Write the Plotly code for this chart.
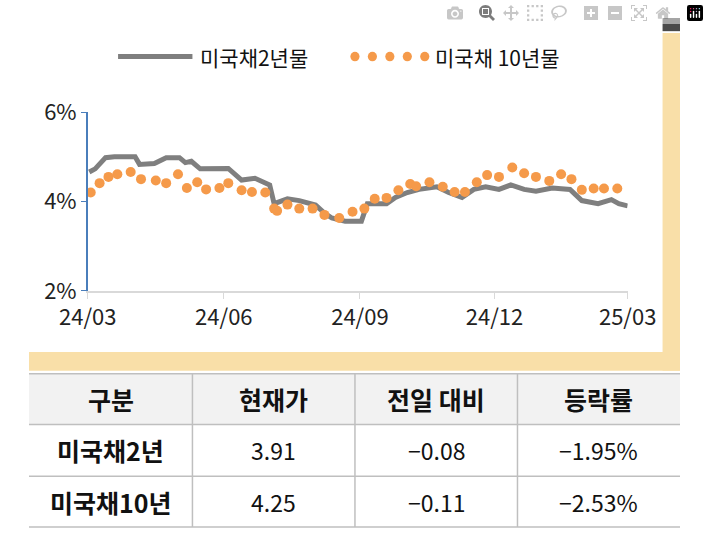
import pandas as pd
import plotly.graph_objects as go

start = pd.Timestamp("2024-03-01")

# 미국채 2년물 (days since 2024-03-01, yield %)
y2_days = [1, 5, 12, 18, 32, 35, 45, 53, 62, 66, 70, 76, 95, 104, 113, 123, 126, 135, 143, 154,
           160, 165, 174, 185, 189, 202, 208, 216, 224, 236, 244, 253, 261, 269, 278, 286, 295,
           303, 314, 326, 334, 345, 354, 359, 365]
y2_vals = [4.66, 4.73, 4.98, 5.0, 5.0, 4.83, 4.85, 4.98, 4.98, 4.87, 4.9, 4.73, 4.74, 4.48, 4.52,
           4.37, 3.95, 4.06, 4.02, 3.92, 3.74, 3.63, 3.56, 3.56, 3.95, 3.95, 4.09, 4.2, 4.27, 4.33,
           4.2, 4.09, 4.27, 4.33, 4.27, 4.37, 4.27, 4.23, 4.3, 4.27, 4.02, 3.95, 4.04, 3.95, 3.9]

# 미국채 10년물
y10_days = [2, 8, 14, 20, 29, 36, 46, 53, 61, 67, 74, 80, 89, 95, 104, 111, 120, 126, 128, 135,
            143, 152, 160, 170, 179, 187, 194, 202, 210, 218, 222, 231, 240, 248, 255, 263, 270,
            278, 287, 295, 303, 312, 320, 327, 334, 342, 349, 358]
y10_vals = [4.2, 4.41, 4.55, 4.61, 4.66, 4.5, 4.47, 4.41, 4.61, 4.3, 4.43, 4.27, 4.3, 4.41, 4.25,
            4.21, 4.2, 3.84, 3.79, 3.93, 3.84, 3.84, 3.7, 3.63, 3.77, 3.84, 4.06, 4.08, 4.25, 4.39,
            4.34, 4.43, 4.33, 4.21, 4.21, 4.43, 4.59, 4.55, 4.76, 4.63, 4.55, 4.46, 4.61, 4.5,
            4.26, 4.29, 4.29, 4.29]

tick_vals = ["2024-03-01", "2024-06-01", "2024-09-01", "2024-12-01", "2025-03-01"]
tick_text = ["24/03", "24/06", "24/09", "24/12", "25/03"]

table_header = ["구분", "현재가", "전일 대비", "등락률"]
table_names = ["미국채2년", "미국채10년"]
table_price = ["3.91", "4.25"]
table_change = ["−0.08", "−0.11"]
table_pct = ["−1.95%", "−2.53%"]

W, H = 709, 541
FONT = "Noto Sans CJK KR"
GRAY = "#7f7f7f"
ORANGE = "#f59a4a"
BEIGE = "#f9dfa8"
GRID = "#bfbfbf"

fig = go.Figure()
fig.add_trace(go.Scatter(x=start + pd.to_timedelta(y2_days, unit="D"), y=y2_vals, mode="lines",
                         line=dict(color=GRAY, width=5), showlegend=False))
fig.add_trace(go.Scatter(x=start + pd.to_timedelta(y10_days, unit="D"), y=y10_vals, mode="markers",
                         marker=dict(color=ORANGE, size=10), showlegend=False))


def px(x):
    return x / W


def py(y):
    return 1 - y / H


def prect(x0, x1, y0, y1, color):
    return dict(type="rect", xref="paper", yref="paper", x0=px(x0), x1=px(x1), y0=py(y1), y1=py(y0),
                fillcolor=color, line_width=0, layer="below")


def pline(x0, y0, x1, y1, color, width):
    return dict(type="line", xref="paper", yref="paper", x0=px(x0), x1=px(x1), y0=py(y0), y1=py(y1),
                line=dict(color=color, width=width))


def ptext(text, x, y, size, anchor="center"):
    return dict(text=text, x=px(x), y=py(y), xref="paper", yref="paper", xanchor=anchor,
                yanchor="middle", showarrow=False, font=dict(family=FONT, size=size, color="#111"))


shapes = [
    prect(690, 709, 16, 375, BEIGE),
    prect(0, 709, 355, 375, BEIGE),
    prect(690, 709, 0, 14, "#4a4a4a"),
    pline(97, 41, 178, 41, GRAY, 5),
]
for cx in [355, 374, 393, 412, 431]:
    shapes.append(dict(type="circle", xref="paper", yref="paper", x0=px(cx - 5), x1=px(cx + 5),
                       y0=py(46), y1=py(36), fillcolor=ORANGE, line_width=0))

annotations = [
    ptext("미국채2년물", 184, 41, 21, "left"),
    ptext("미국채 10년물", 440, 41, 21, "left"),
]

# table drawn with shapes and annotations
col_edges = [0, 178, 355, 532, 709]
row_edges = [378, 432, 487, 541]
shapes.append(prect(0, 709, 378, 432, "#f2f2f2"))
for ry in row_edges:
    shapes.append(pline(0, ry, 709, ry, GRID, 1.5))
for cx in col_edges[1:-1]:
    shapes.append(pline(cx, 378, cx, 541, GRID, 1.5))
columns = [table_names, table_price, table_change, table_pct]
for i, h in enumerate(table_header):
    xc = (col_edges[i] + col_edges[i + 1]) / 2
    annotations.append(ptext("<b>%s</b>" % h, xc, 405, 25))
    for j, v in enumerate(columns[i]):
        yc = (row_edges[j + 1] + row_edges[j + 2]) / 2
        annotations.append(ptext("<b>%s</b>" % v if i == 0 else v, xc, yc, 25 if i == 0 else 23))

fig.update_layout(
    width=W, height=H, margin=dict(l=0, r=0, t=0, b=0),
    paper_bgcolor="white", plot_bgcolor="white",
    shapes=shapes, annotations=annotations,
    xaxis=dict(domain=[px(64), px(652)], range=["2024-03-01", "2025-03-01"],
               tickvals=tick_vals, ticktext=tick_text, showgrid=False,
               showline=True, linecolor="#d9d9d9", linewidth=1.5,
               ticks="outside", tickcolor="#d9d9d9", ticklen=6,
               tickfont=dict(family=FONT, size=22, color="#222")),
    yaxis=dict(domain=[py(290), py(100)], range=[2, 6], tickvals=[2, 4, 6],
               ticktext=["2%", "4%", "6%"], showgrid=False, zeroline=False,
               showline=True, linecolor="#4a7ebb", linewidth=1.5,
               ticks="outside", tickcolor="#4a7ebb", ticklen=5,
               tickfont=dict(family=FONT, size=22, color="#222")),
)

fig.write_html("out.html", post_script="document.body.style.margin='0';")
